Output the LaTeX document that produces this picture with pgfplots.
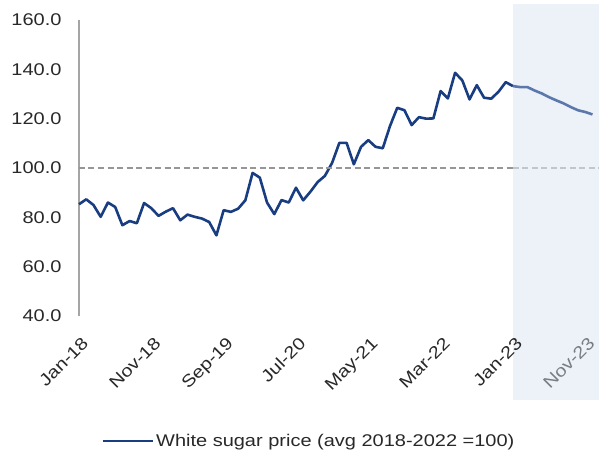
\documentclass[border=0pt]{standalone}
\usepackage{pgfplots}
\pgfplotsset{compat=1.18}
\usepackage{fontspec}
\setmainfont{Liberation Sans}[FakeStretch=1.18]
\definecolor{navy}{RGB}{24,61,128}
\definecolor{navylight}{RGB}{90,120,172}
\definecolor{shadecol}{RGB}{237,241,248}
\definecolor{axgray}{RGB}{165,165,165}
\definecolor{dgray}{RGB}{150,150,150}
\definecolor{dgraylight}{RGB}{192,197,206}
\definecolor{lbl}{RGB}{40,40,40}
\definecolor{lbllight}{RGB}{120,124,132}
\newcommand{\tl}{\fontsize{17}{20}\selectfont}
\begin{document}
\begin{tikzpicture}[x=1bp,y=1bp]
\useasboundingbox (-79,-138) rectangle (520,316);
% forecast period background (x = 60 to 71.9 months in axis units)
\fill[shadecol] (433.9,312) rectangle (520,-84);
\begin{axis}[
  at={(0,0)}, anchor=south west,
  scale only axis, width=520bp, height=296bp,
  xmin=0, xmax=71.9, ymin=40, ymax=160,
  clip=false,
  axis lines=left,
  axis line style={-},
  x axis line style={draw=none},
  y axis line style={axgray, line width=1.5bp},
  major tick length=0,
  ytick={40,60,...,160},
  yticklabels={40.0,60.0,80.0,100.0,120.0,140.0,160.0},
  xtick={0,10,...,70},
  xticklabels={Jan-18,Nov-18,Sep-19,Jul-20,May-21,Mar-22,Jan-23,\textcolor{lbllight}{Nov-23}},
  x tick label style={anchor=north east, xshift=2bp, yshift=-15bp, rotate=45, font=\tl, text=lbl},
  y tick label style={font=\tl, text=lbl, xshift=-14bp},
  legend style={draw=none, fill=none, at={(230bp,-125bp)}, anchor=center, font=\tl, text=lbl},
  legend image code/.code={\draw[#1] (0bp,0bp) -- (50bp,0bp);},
  legend cell align=left,
]
\addplot[navy, line width=2.6bp, line join=round] coordinates {
(0,85.3) (1,87.3) (2,85.0) (3,80.2) (4,86.0) (5,84.2) (6,76.8) (7,78.5) (8,77.6) (9,85.8)
(10,83.7) (11,80.6) (12,82.3) (13,83.7) (14,78.8) (15,81.1) (16,80.2) (17,79.5) (18,78.1) (19,72.7)
(20,82.9) (21,82.2) (22,83.5) (23,86.9) (24,98.0) (25,96.1) (26,86.0) (27,81.3) (28,87.0) (29,86.0)
(30,92.0) (31,86.9) (32,90.4) (33,94.3) (34,96.8) (35,102.1) (36,110.2) (37,110.2) (38,101.5) (39,108.6)
(40,111.3) (41,108.6) (42,108.0) (43,117.0) (44,124.4) (45,123.4) (46,117.4) (47,120.6) (48,120.0) (49,120.1)
(50,131.2) (51,128.2) (52,138.6) (53,135.5) (54,127.8) (55,133.6) (56,128.5) (57,128.1) (58,130.9) (59,134.8)
(60,133.2)
};
\addlegendentry{White sugar price (avg 2018-2022 =100)}
\addplot[navylight, line width=2.6bp, line join=round, forget plot] coordinates {
(60,133.2) (61,132.8) (62,132.8) (63,131.4) (64,130.2) (65,128.7) (66,127.4) (67,126.2) (68,124.7) (69,123.4)
(70,122.7) (71,121.7)
};
\addplot[dgray, line width=1.6bp, dash pattern=on 6bp off 3.5bp, forget plot] coordinates {(0,100) (60,100)};
\addplot[dgraylight, line width=1.6bp, dash pattern=on 6bp off 3.5bp, forget plot] coordinates {(60,100) (71.9,100)};
\end{axis}
\end{tikzpicture}
\end{document}
